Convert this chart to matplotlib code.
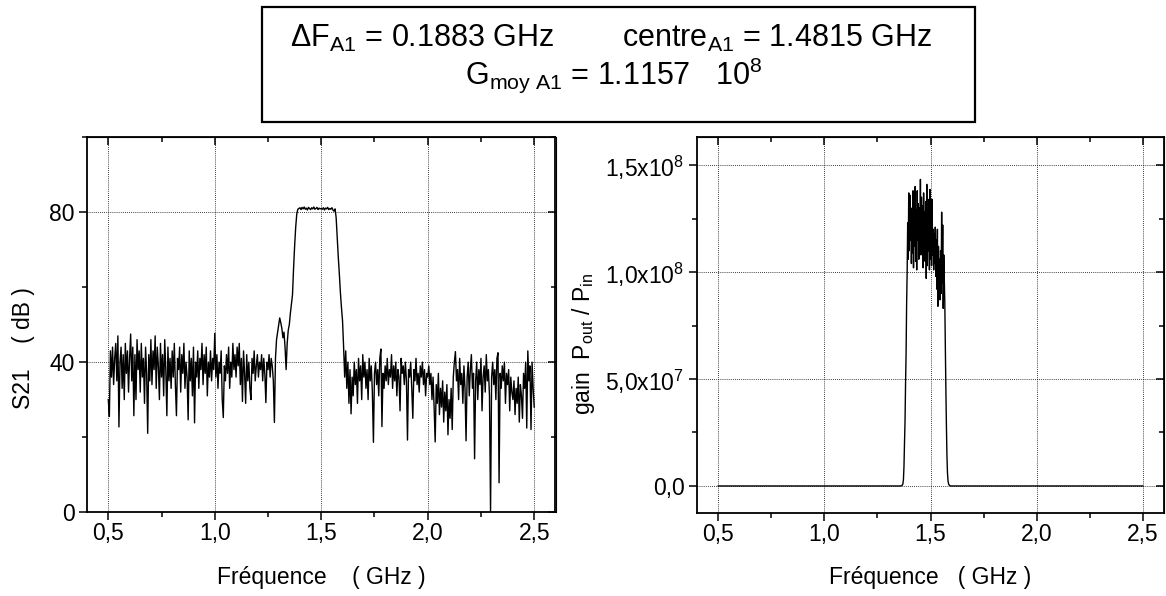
import numpy as np
import matplotlib
matplotlib.use('Agg')
import matplotlib.pyplot as plt
from matplotlib.ticker import MultipleLocator
from matplotlib.patches import Rectangle

plt.rcParams['font.family'] = ['Liberation Sans', 'DejaVu Sans']
plt.rcParams['mathtext.fontset'] = 'custom'
plt.rcParams['mathtext.rm'] = 'Liberation Sans'
plt.rcParams['mathtext.it'] = 'Liberation Sans'
plt.rcParams['mathtext.bf'] = 'Liberation Sans:bold'

# S21 sweep (dB), 0.5 -> 2.5 GHz, 5 MHz step
s21_start = 0.5
s21_step = 0.005
s21_db = [
    30, 25.5, 43, 36, 44, 34, 41, 45, 35, 47, 22.7, 40, 44, 33, 42, 30, 45, 37, 43, 32,
    41, 47.5, 35, 44, 25.7, 42, 30, 46, 38, 43, 32, 45, 36, 41, 29, 44, 37, 21, 42, 35,
    46, 34, 43, 38, 47, 33, 44, 39, 30, 45, 36, 42, 31, 46, 38, 25.7, 44, 35, 41, 33,
    43, 36, 45, 34, 25.7, 41, 38, 44, 32, 42, 37, 45, 33, 40, 36, 24.6, 43, 35, 41, 31,
    44, 23.8, 40, 36, 43, 33, 41, 38, 45, 34, 42, 37, 44, 31, 40, 36, 43, 35, 41, 38,
    47.7, 36, 42, 33, 40, 37, 43, 30, 25.2, 39, 35, 42, 37, 44, 33, 40, 36, 45, 38, 42,
    36, 44, 39, 45, 34, 41, 29.5, 43, 37, 29, 42, 35, 40, 33, 30, 41, 37, 43, 35, 39,
    42, 36, 40, 38, 42, 35, 41, 37, 29.2, 40, 38, 42, 36, 41, 39, 35, 23.9, 41, 46, 48,
    50, 51.8, 50.5, 49, 46.5, 48, 44, 38, 45, 48.5, 50, 53, 55.5, 58, 65, 71, 76, 79.5, 80.8, 81,
    81.2, 80.7, 81.3, 80.9, 81.4, 80.8, 81.1, 80.6, 81.3, 81.0, 80.7, 81.2, 80.9, 81.4, 80.8, 81.0, 81.3, 80.7, 81.1, 80.9,
    81.0, 80.8, 81.2, 80.6, 81.1, 80.9, 81.3, 80.7, 81.0, 80.8, 81.2, 80.6, 80.3, 80.9, 78.5, 73, 68, 63.5, 58.5, 54.5,
    51, 44, 36, 43, 33, 40, 29, 38, 26.2, 36, 31, 40, 34, 38, 29, 41, 35, 39, 30, 42,
    36, 40, 33, 38, 30, 41, 35, 39, 32, 18.6, 37, 40, 34, 38, 31, 41, 43.5, 22.8, 37, 33,
    39, 35, 41, 34, 38, 36, 42, 33, 39, 35, 40, 31, 38, 36, 27, 41, 37, 39, 34, 40,
    35, 19.2, 38, 36, 40, 33, 25, 38, 35, 41, 34, 37, 32, 39, 36, 40, 34, 38, 31, 37,
    36, 39, 34, 37, 30, 36, 28, 18.7, 34, 29, 37, 26, 33, 28, 35, 24, 32, 27, 34, 20.6,
    30, 25, 33, 22, 36, 40, 42.8, 35, 38, 30, 41, 34, 37, 29, 39, 33, 19, 36, 40, 31,
    38, 42, 33, 37, 14.2, 35, 40, 30, 38, 34, 41, 27, 36, 39, 32, 42, 35, 38, 31, 0,
    36, 40, 34, 38, 30, 41, 42.5, 7.8, 37, 33, 39, 35, 40, 29, 37, 34, 38, 27, 36, 32,
    30, 35, 26, 33, 29, 36, 24, 34, 31, 25, 37, 33, 40, 22.4, 43, 35, 39, 22, 40, 33,
    28,
]

# linear gain around the passband (x 1e8), 1.36 -> 1.60 GHz, 2.5 MHz step
gain_start = 1.36
gain_step = 0.0025
gain_band = [
    0.000, 0.001, 0.002, 0.005, 0.010, 0.030, 0.090, 0.200, 0.300, 0.480,
    0.620, 0.850, 1.000, 1.230, 1.060, 1.370, 1.100, 1.360, 1.150, 1.300,
    1.040, 1.250, 1.090, 1.380, 1.020, 1.330, 1.120, 1.400, 1.050, 1.290,
    1.010, 1.380, 1.150, 1.320, 1.060, 1.300, 1.100, 1.433, 1.080, 1.350,
    1.130, 1.310, 1.020, 1.370, 1.150, 1.280, 1.050, 1.330, 0.970, 1.410,
    1.030, 1.260, 1.100, 1.340, 1.010, 1.386, 1.060, 1.240, 1.030, 1.340,
    1.080, 1.200, 1.010, 1.180, 1.040, 1.210, 0.980, 1.150, 0.920, 1.200,
    0.840, 1.120, 0.900, 1.060, 0.870, 1.100, 0.900, 1.280, 0.950, 1.220,
    0.830, 1.080, 0.965, 0.850, 0.640, 0.450, 0.280, 0.140, 0.060, 0.025,
    0.010, 0.005, 0.002, 0.001, 0.000, 0.000, 0.000,
]
gain_ends_f = [0.5, 2.5]
gain_ends = [0.0, 0.0]

x_ticks = [0.5, 1.0, 1.5, 2.0, 2.5]
x_ticklabels = ['0,5', '1,0', '1,5', '2,0', '2,5']
s21_ticks = [0, 40, 80]
gain_ticks = [0, 5e7, 1e8, 1.5e8]
gain_ticklabels = ['0,0', r'5,0x10$^{7}$', r'1,0x10$^{8}$', r'1,5x10$^{8}$']

freq_s21 = s21_start + s21_step * np.arange(len(s21_db))
band_f = gain_start + gain_step * np.arange(len(gain_band))
freq_gain = np.concatenate([[gain_ends_f[0]], band_f, [gain_ends_f[1]]])
gain = np.concatenate([[gain_ends[0]], np.array(gain_band) * 1e8, [gain_ends[1]]])

W, H = 1166, 596
FS = 16.5
fig = plt.figure(figsize=(W / 100, H / 100), dpi=100)

ax1 = fig.add_axes([87 / W, (H - 512) / H, 468.5 / W, 374.7 / H])
ax2 = fig.add_axes([697 / W, (H - 512.7) / H, 467 / W, 375.4 / H])


def style(ax, ymaj, ymin):
    for s in ax.spines.values():
        s.set_linewidth(1.3)
    ax.set_xlim(0.4, 2.6)
    ax.set_xticks(x_ticks)
    ax.set_xticklabels(x_ticklabels)
    ax.xaxis.set_minor_locator(MultipleLocator(0.25))
    ax.yaxis.set_minor_locator(MultipleLocator(ymin))
    ax.tick_params(which='both', direction='out', labelsize=FS, width=1.1)
    ax.tick_params(which='major', length=6)
    ax.tick_params(which='minor', length=3.5)
    ax.tick_params(axis='x', pad=1.5)
    ax.tick_params(axis='y', pad=3)
    ax.grid(True, which='major', linestyle=(0, (1, 1.5)), color='k', linewidth=0.6)
    top = ax.secondary_xaxis('top')
    top.set_xticks(x_ticks)
    top.xaxis.set_minor_locator(MultipleLocator(0.25))
    top.tick_params(which='both', direction='in', labeltop=False, width=1.1)
    top.tick_params(which='major', length=6)
    top.tick_params(which='minor', length=3.5)
    right = ax.secondary_yaxis('right')
    right.yaxis.set_major_locator(MultipleLocator(ymaj))
    right.yaxis.set_minor_locator(MultipleLocator(ymin))
    right.tick_params(which='both', direction='in', labelright=False, width=1.1)
    right.tick_params(which='major', length=6)
    right.tick_params(which='minor', length=3.5)


# left: S21 in dB
ax1.plot(freq_s21, s21_db, color='k', linewidth=1.0)
ax1.set_ylim(0, 100)
ax1.set_yticks(s21_ticks)
style(ax1, 40, 20)
ax1.set_xlabel('Fréquence    ( GHz )', fontsize=FS)
ax1.xaxis.set_label_coords(0.5, -0.1735)
ax1.xaxis.label.set_va('center')
ax1.set_ylabel('S21    ( dB )', fontsize=FS)
ax1.yaxis.set_label_coords(-0.136, 0.4377)
ax1.yaxis.label.set_va('center')

# right: linear gain
ax2.plot(freq_gain, gain, color='k', linewidth=1.0)
ax2.set_ylim(-1.25e7, 1.63e8)
ax2.set_yticks(gain_ticks)
ax2.set_yticklabels(gain_ticklabels)
style(ax2, 5e7, 2.5e7)
ax2.set_xlabel('Fréquence   ( GHz )', fontsize=FS)
ax2.xaxis.set_label_coords(0.5, -0.173)
ax2.xaxis.label.set_va('center')
ax2.set_ylabel(r'gain  P$_{\mathregular{out}}$ / P$_{\mathregular{in}}$', fontsize=FS)
ax2.yaxis.set_label_coords(-0.242, 0.449)
ax2.yaxis.label.set_va('center')

# summary box
BFS = 22
fig.patches.append(Rectangle((262 / W, (H - 122) / H), 713 / W, 114.7 / H,
                             transform=fig.transFigure, fill=False,
                             edgecolor='k', linewidth=1.6))
fig.text(290 / W, (H - 47) / H, r'ΔF$_{\mathregular{A1}}$ = 0.1883 GHz',
         fontsize=BFS, va='baseline', ha='left')
fig.text(622 / W, (H - 47) / H, r'centre$_{\mathregular{A1}}$ = 1.4815 GHz',
         fontsize=BFS, va='baseline', ha='left')
fig.text(465 / W, (H - 84) / H,
         r'G$_{\mathregular{moy\ A1}}$ = 1.1157   10$^{\mathregular{8}}$',
         fontsize=BFS, va='baseline', ha='left')

fig.savefig('out.png', dpi=100)
